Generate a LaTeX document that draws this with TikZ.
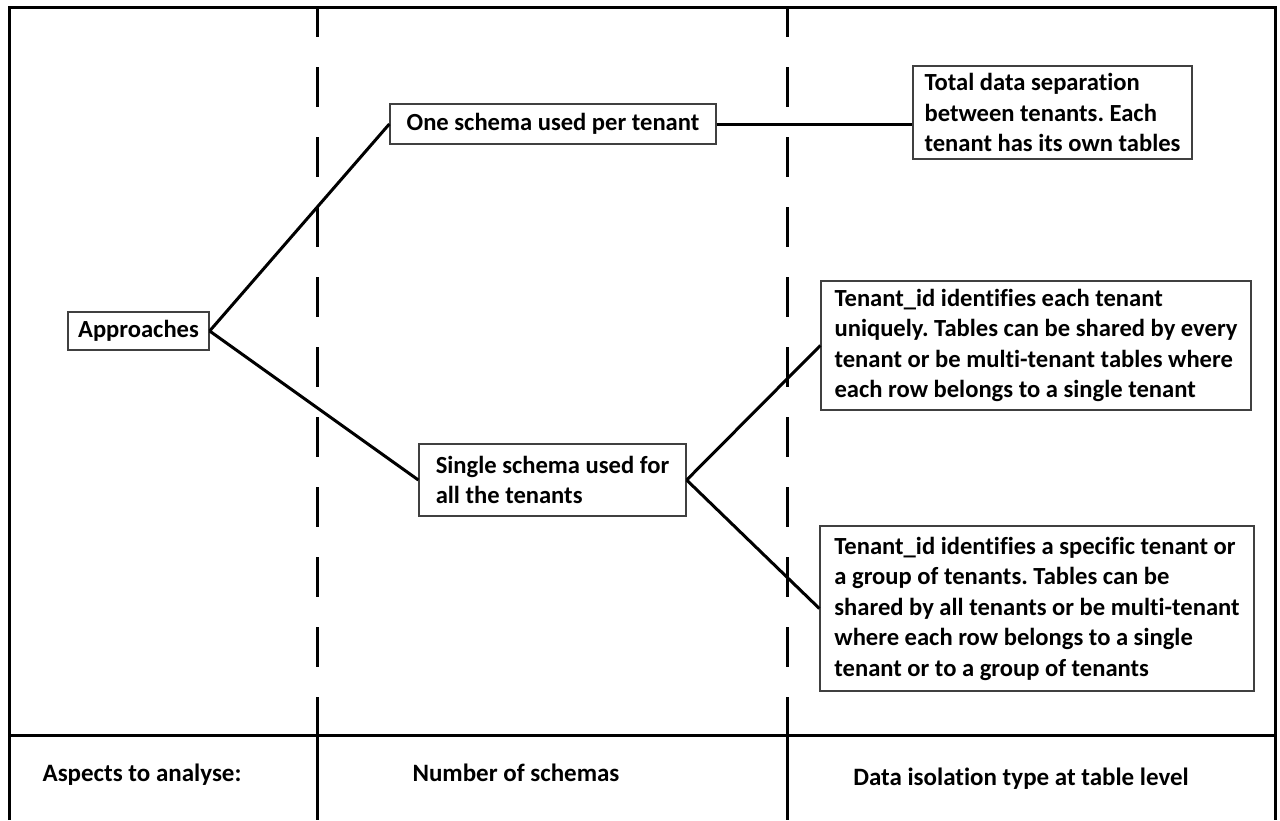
\documentclass[tikz,border=0pt]{standalone}
\usepackage{fontspec}
\setmainfont{Carlito}[Ligatures={NoCommon}]
\begin{document}
\frenchspacing
\begin{tikzpicture}[x=1pt,y=-1pt,
  frame/.style={line width=3pt,black},
  divider/.style={line width=3pt,black,dash pattern=on 40pt off 30pt,dash phase=10pt},
  link/.style={line width=3pt,black},
  box/.style={draw=black!75,line width=1.3pt,fill=white,font=\fontsize{24.6}{30.5}\selectfont\bfseries,
    align=left,inner sep=2pt,anchor=center},
  caption/.style={font=\fontsize{25}{30}\selectfont\bfseries,anchor=center}]
  \useasboundingbox (0,0) rectangle (1280,820);
  % outer frame and column grid
  \draw[frame] (9,820) -- (9,7) -- (1275,7) -- (1275,820);
  \draw[frame] (9,735) -- (1275,735);
  \draw[divider] (317,7) -- (317,735);
  \draw[divider] (787,7) -- (787,735);
  \draw[frame] (317,735) -- (317,820);
  \draw[frame] (787,735) -- (787,820);
  % nodes
  \node[box,minimum width=141pt,minimum height=38pt] (appr) at (138.5,331) {Approaches};
  \node[box,minimum width=326pt,minimum height=40pt] (one) at (553,124) {One schema used per tenant};
  \node[box,minimum width=279pt,minimum height=93pt] (sep) at (1052.5,112.5)
    {Total data separation\\between tenants. Each\\tenant has its own tables};
  \node[box,minimum width=267pt,minimum height=72pt] (single) at (552.5,480)
    {Single schema used for\\all the tenants};
  \node[box,minimum width=430pt,minimum height=129pt] (uniq) at (1036,345.5)
    {Tenant\_id identifies each tenant\\uniquely. Tables can be shared by every\\tenant or be multi-tenant tables where\\each row belongs to a single tenant};
  \node[box,minimum width=434pt,minimum height=165pt] (group) at (1037,608.5)
    {Tenant\_id identifies a specific tenant or\\a group of tenants. Tables can be\\shared by all tenants or be multi-tenant\\where each row belongs to a single\\tenant or to a group of tenants};
  % connectors
  \draw[link] (appr.east) -- (one.west);
  \draw[link] (appr.east) -- (single.west);
  \draw[link] (one.east) -- (sep.west |- one.east);
  \draw[link] (single.east) -- (uniq.west);
  \draw[link] (single.east) -- (group.west);
  % row captions
  \node[caption] (aspects) at (142,775) {Aspects to analyse:};
  \node[caption] (schemas) at (516,773) {Number of schemas};
  \node[caption] (isolation) at (1021,779) {Data isolation type at table level};
\end{tikzpicture}
\end{document}
